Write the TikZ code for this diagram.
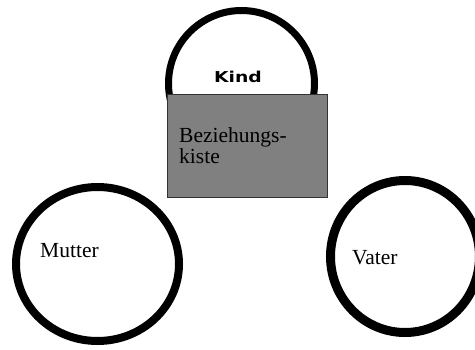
\documentclass[tikz,border=0pt]{standalone}
\usepackage{fontspec}
\setmainfont{Liberation Serif}
\newfontfamily\kindfont{DejaVu Sans}
\usetikzlibrary{shapes.geometric}
\begin{document}
\begin{tikzpicture}[x=1pt,y=-1pt,
  ring/.style={draw=black,fill=white,ellipse,inner sep=0pt},
  label/.style={inner sep=0pt,anchor=base west,font=\fontsize{21.5}{21}\selectfont}]
\useasboundingbox (0,0) rectangle (475,349);
\node[ring,line width=7pt,minimum width=146pt,minimum height=146pt] (kindring) at (241.5,83.5) {};
\node[draw=black!80,line width=0.8pt,fill=black!50,minimum width=160pt,minimum height=103pt,inner sep=0pt,anchor=north west] (kiste) at (166.5,93.5) {};
\node[inner sep=0pt,font=\kindfont\bfseries\fontsize{15}{15}\selectfont,xscale=1.25] (kind) at (238,77) {Kind};
\node[label,align=left] (bk) at (179,163.5) {Beziehungs-\\kiste};
\node[ring,line width=8pt,minimum width=163pt,minimum height=154pt] (mutter) at (97.5,264) {};
\node[label] (mt) at (40,257) {Mutter};
\node[ring,line width=9pt,minimum width=149pt,minimum height=152pt] (vater) at (405,256.5) {};
\node[label] (vt) at (352,264) {Vater};
\end{tikzpicture}
\end{document}
